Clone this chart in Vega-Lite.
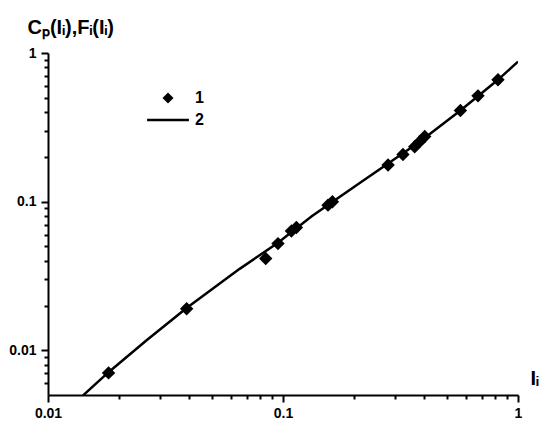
{
  "$schema": "https://vega.github.io/schema/vega-lite/v6.json",
  "width": 470,
  "height": 342,
  "autosize": {"type": "none"},
  "padding": {"left": 48, "top": 53, "right": 32, "bottom": 39},
  "background": "white",
  "config": {
    "view": {"stroke": null},
    "axis": {
      "grid": false,
      "domainColor": "black",
      "domainWidth": 2,
      "tickColor": "black",
      "tickOpacity": 1,
      "labelFont": "Liberation Sans",
      "labelFontWeight": "bold",
      "labelFontSize": 14,
      "labelColor": "black",
      "titleFont": "Liberation Sans",
      "titleFontWeight": "bold",
      "titleColor": "black"
    },
    "legend": {
      "labelFont": "Liberation Sans",
      "labelFontWeight": "bold",
      "labelFontSize": 16,
      "labelColor": "black"
    }
  },
  "datasets": {
    "pts": [
      {"I": 0.0181, "V": 0.00704, "s": "1"},
      {"I": 0.0389, "V": 0.0190, "s": "1"},
      {"I": 0.0844, "V": 0.0414, "s": "1"},
      {"I": 0.0952, "V": 0.0522, "s": "1"},
      {"I": 0.1086, "V": 0.0635, "s": "1"},
      {"I": 0.114, "V": 0.067, "s": "1"},
      {"I": 0.1554, "V": 0.0947, "s": "1"},
      {"I": 0.1623, "V": 0.0997, "s": "1"},
      {"I": 0.280, "V": 0.1763, "s": "1"},
      {"I": 0.324, "V": 0.2075, "s": "1"},
      {"I": 0.3634, "V": 0.234, "s": "1"},
      {"I": 0.3817, "V": 0.2532, "s": "1"},
      {"I": 0.401, "V": 0.2746, "s": "1"},
      {"I": 0.5688, "V": 0.410, "s": "1"},
      {"I": 0.6757, "V": 0.515, "s": "1"},
      {"I": 0.822, "V": 0.660, "s": "1"}
    ],
    "curve": [
      {"I": 0.0141, "V": 0.00497},
      {"I": 0.0181, "V": 0.00712},
      {"I": 0.0262, "V": 0.01163},
      {"I": 0.0389, "V": 0.01927},
      {"I": 0.0654, "V": 0.0353},
      {"I": 0.0952, "V": 0.0529},
      {"I": 0.1325, "V": 0.0798},
      {"I": 0.2121, "V": 0.1333},
      {"I": 0.3817, "V": 0.2532},
      {"I": 0.5688, "V": 0.410},
      {"I": 0.822, "V": 0.660},
      {"I": 1.0, "V": 0.875}
    ]
  },
  "encoding": {
    "x": {
      "field": "I", "type": "quantitative",
      "scale": {"type": "log", "domain": [0.01, 1], "nice": false},
      "axis": {
        "orient": "bottom",
        "zindex": 1,
        "ticks": true,
        "tickWidth": 2,
        "tickOpacity": 1,
        "tickSize": {"condition": {"test": "indexof([0.01, 0.1, 1], datum.value) >= 0", "value": 7}, "value": 4},
        "values": [0.01, 0.02, 0.03, 0.04, 0.05, 0.06, 0.07, 0.08, 0.09, 0.1, 0.2, 0.3, 0.4, 0.5, 0.6, 0.7, 0.8, 0.9, 1],
        "format": "~g",
        "labelExpr": "indexof(['0.01','0.1','1'], datum.label) >= 0 ? datum.label : ''",
        "labelPadding": 4,
        "labelFlush": false,
        "labelOverlap": false,
        "title": "Iᵢ",
        "titleFontSize": 20,
        "titleAngle": 0,
        "titleAlign": "left",
        "titleBaseline": "alphabetic",
        "titleAnchor": null,
        "titleX": 482,
        "titleY": -11
      }
    },
    "y": {
      "field": "V", "type": "quantitative",
      "scale": {"type": "log", "domain": [0.005, 1], "nice": false},
      "axis": {
        "orient": "left",
        "zindex": 1,
        "ticks": true,
        "tickWidth": 2,
        "tickOpacity": 1,
        "tickSize": {"condition": {"test": "indexof([0.01, 0.1, 1], datum.value) >= 0", "value": 7}, "value": 4},
        "values": [0.006, 0.007, 0.008, 0.009, 0.01, 0.02, 0.03, 0.04, 0.05, 0.06, 0.07, 0.08, 0.09, 0.1, 0.2, 0.3, 0.4, 0.5, 0.6, 0.7, 0.8, 0.9, 1],
        "format": "~g",
        "labelExpr": "indexof(['0.01','0.1','1'], datum.label) >= 0 ? datum.label : ''",
        "labelPadding": 5,
        "labelFlush": false,
        "labelOverlap": false,
        "title": "Cₚ(Iᵢ),Fᵢ(Iᵢ)",
        "titleFontSize": 20,
        "titleAngle": 0,
        "titleAlign": "left",
        "titleBaseline": "alphabetic",
        "titleAnchor": null,
        "titleX": -21,
        "titleY": -20
      }
    }
  },
  "layer": [
    {
      "data": {"name": "curve"},
      "mark": {"type": "line", "color": "black", "strokeWidth": 2.5, "clip": true}
    },
    {
      "data": {"name": "pts"},
      "mark": {"type": "point", "filled": true, "color": "black", "opacity": 1, "size": 180},
      "encoding": {
        "shape": {
          "field": "s", "type": "nominal",
          "scale": {"domain": ["1", "2"], "range": ["diamond", "M-3.8,-0.22H3.8V0.22H-3.8Z"]},
          "legend": {
            "title": null,
            "orient": "none",
            "legendX": 112,
            "legendY": 37,
            "padding": 0,
            "symbolSize": 121,
            "symbolFillColor": "#000000",
            "symbolOpacity": 1,
            "labelOffset": 19,
            "rowPadding": 5
          }
        }
      }
    }
  ]
}
